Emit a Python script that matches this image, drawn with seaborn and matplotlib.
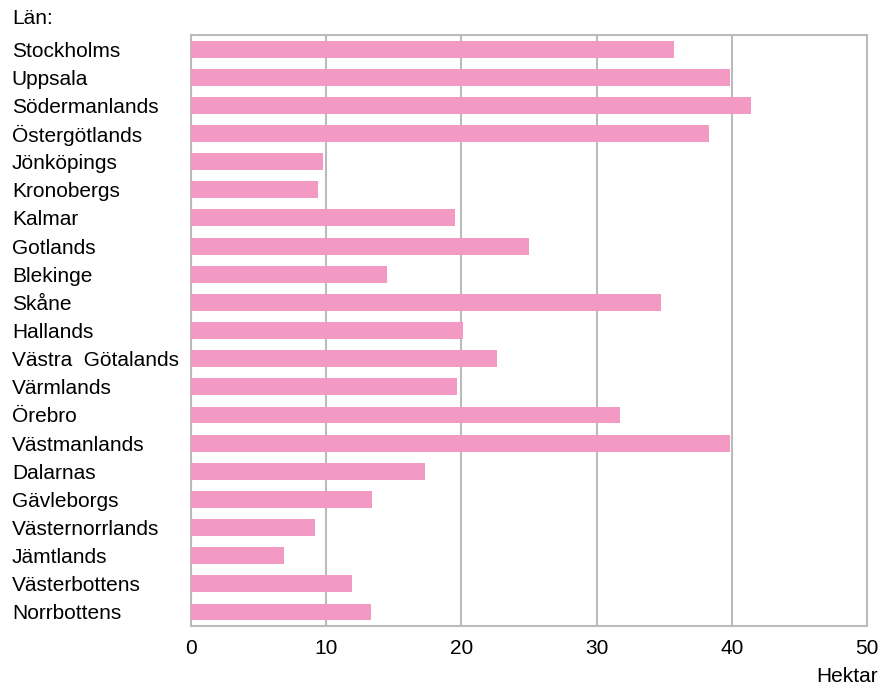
import matplotlib
matplotlib.use("Agg")
import matplotlib.pyplot as plt
import pandas as pd
import seaborn as sns

lan = ["Stockholms", "Uppsala", "Södermanlands", "Östergötlands", "Jönköpings",
       "Kronobergs", "Kalmar", "Gotlands", "Blekinge", "Skåne", "Hallands",
       "Västra  Götalands", "Värmlands", "Örebro", "Västmanlands", "Dalarnas",
       "Gävleborgs", "Västernorrlands", "Jämtlands", "Västerbottens", "Norrbottens"]
hektar = [35.7, 39.9, 41.4, 38.3, 9.8, 9.4, 19.5, 25.0, 14.5, 34.8, 20.1,
          22.6, 19.7, 31.7, 39.9, 17.3, 13.4, 9.2, 6.9, 11.9, 13.3]
xticks = [0, 10, 20, 30, 40, 50]

df = pd.DataFrame({"Län": lan, "Hektar": hektar})

sns.set_style("white")
plt.rcParams["font.family"] = ["Liberation Sans", "DejaVu Sans"]
plt.rcParams["text.color"] = "black"
plt.rcParams["xtick.color"] = "black"
plt.rcParams["ytick.color"] = "black"

fig = plt.figure(figsize=(8.79, 6.85), dpi=100)
ax = fig.add_axes([0.2173, 0.0861, 0.7690, 0.8628])

sns.barplot(data=df, x="Hektar", y="Län", orient="h", color="#F39AC4",
            saturation=1, width=0.6, linewidth=0, ax=ax, zorder=3)

ax.set_xlim(0, 50)
ax.set_ylim(20.5, -0.5)
ax.set_xticks(xticks)
ax.set_xticklabels([str(t) for t in xticks], fontsize=15)
ax.xaxis.grid(True, color="#BBBBBB", linewidth=1.5, zorder=0)
ax.set_axisbelow(True)
for s in ax.spines.values():
    s.set_color("#BBBBBB")
    s.set_linewidth(1.5)

ax.tick_params(axis="x", length=0, pad=9, labelcolor="black")
ax.tick_params(axis="y", length=0, pad=129, labelcolor="black")
for lbl in ax.get_yticklabels():
    lbl.set_ha("left")
    lbl.set_fontsize(15)

ax.set_xlabel("")
ax.set_ylabel("")

fig.text(12 / 879, 1 - 18 / 685, "Län:", fontsize=15, ha="left", va="center", color="black")
fig.text(878 / 879, 1 - 677 / 685, "Hektar", fontsize=15, ha="right", va="center", color="black")

fig.savefig("out.png", dpi=100)
